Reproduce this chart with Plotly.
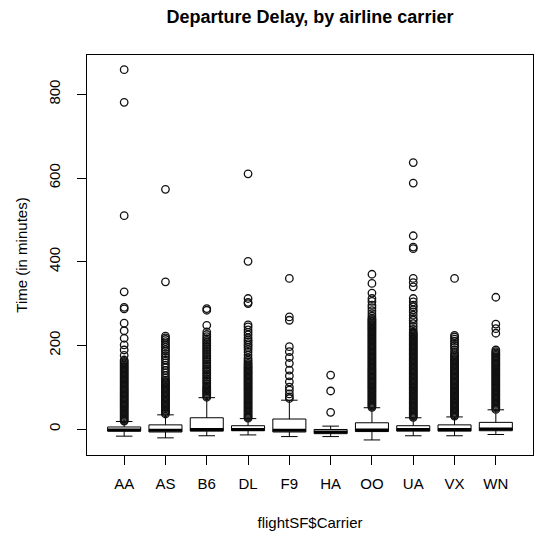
import plotly.graph_objects as go

carriers = ["AA", "AS", "B6", "DL", "F9", "HA", "OO", "UA", "VX", "WN"]
positions = [1, 2, 3, 4, 5, 6, 7, 8, 9, 10]

q1 = [-5, -7, -5, -4, -7, -11, -6, -5, -5, -4]
median = [-2, -3, -1, -1, -3, -7, -2, -1, -1, 0]
q3 = [5, 10, 27, 8, 24, -1, 15, 8, 10, 16]
lower_whisker = [-17, -21, -16, -14, -18, -18, -26, -16, -16, -13]
upper_whisker = [18, 34, 75, 25, 69, 7, 51, 27, 29, 46]

out_AA = [859, 781, 510, 328, 291, 287, 253, 235, 217, 201, 189, 176,
          165, 162, 159, 156, 153, 150, 147, 144, 141, 138, 135, 132, 129, 126, 123, 120,
          117, 114, 111, 108, 105, 102, 99, 96, 93, 90, 87, 84, 81, 78, 75, 72, 69, 66,
          63, 60, 57, 54, 51, 48, 45, 42, 39, 36, 33, 30, 27, 24, 21, 19]
out_AS = [573, 352, 222, 218, 214, 209, 204, 200, 195, 190, 186, 180, 175, 170, 165,
          158, 152, 146, 140, 134, 128, 122, 117, 114, 111, 108, 105, 102, 99, 96, 93,
          90, 87, 84, 81, 78, 75, 72, 69, 66, 63, 60, 57, 54, 51, 48, 45, 42, 39, 36]
out_B6 = [288, 284, 248, 232, 226, 221, 216, 212, 208, 204, 200, 196, 192, 188, 184,
          180, 176, 172, 168, 164, 160, 156, 152, 148, 144, 140, 136, 132, 128, 124, 120,
          116, 112, 108, 104, 100, 97, 94, 91, 88, 85, 82, 79, 76]
out_DL = [610, 401, 312, 303, 300, 249, 244, 237, 231, 225, 218, 213, 209, 204, 200,
          195, 190, 184, 177, 170, 165, 161, 157, 154, 151, 148, 145, 142, 139, 136, 133,
          130, 127, 124, 121, 118, 115, 112, 109, 106, 103, 100, 97, 94, 91, 88, 85, 82,
          79, 76, 73, 70, 67, 64, 61, 58, 55, 52, 49, 46, 43, 40, 37, 34, 31, 28, 26]
out_F9 = [360, 268, 260, 197, 185, 171, 157, 141, 127, 113, 100, 93, 84, 77, 73]
out_HA = [129, 91, 40]
out_OO = [370, 348, 325, 312, 305, 296, 290, 283, 276, 270, 265, 262, 259, 256, 253,
          250, 247, 244, 241, 238, 235, 232, 229, 226, 223, 220, 217, 214, 211, 208, 205,
          202, 199, 196, 193, 190, 187, 184, 181, 178, 175, 172, 169, 166, 163, 160, 157,
          154, 151, 148, 145, 142, 139, 136, 133, 130, 127, 124, 121, 118, 115, 112, 109,
          106, 103, 100, 97, 94, 91, 88, 85, 82, 79, 76, 73, 70, 67, 64, 61, 58, 55, 52]
out_UA = [637, 588, 462, 435, 431, 360, 350, 340, 312, 304, 296, 292, 285, 280, 272,
          264, 260, 252, 245, 238, 232, 229, 226, 223, 220, 217, 214, 211, 208, 205, 202,
          199, 196, 193, 190, 187, 184, 181, 178, 175, 172, 169, 166, 163, 160, 157, 154,
          151, 148, 145, 142, 139, 136, 133, 130, 127, 124, 121, 118, 115, 112, 109, 106,
          103, 100, 97, 94, 91, 88, 85, 82, 79, 76, 73, 70, 67, 64, 61, 58, 55, 52, 49,
          46, 43, 40, 37, 34, 31, 28]
out_VX = [360, 224, 220, 215, 210, 205, 200, 195, 189, 183, 178, 175, 172, 169, 166,
          163, 160, 157, 154, 151, 148, 145, 142, 139, 136, 133, 130, 127, 124, 121, 118,
          115, 112, 109, 106, 103, 100, 97, 94, 91, 88, 85, 82, 79, 76, 73, 70, 67, 64,
          61, 58, 55, 52, 49, 46, 43, 40, 37, 34, 31]
out_WN = [315, 251, 240, 229, 189, 185, 182, 179, 176, 173, 170, 167, 164, 161, 158,
          155, 152, 149, 146, 143, 140, 137, 134, 131, 128, 125, 122, 119, 116, 113, 110,
          107, 104, 101, 98, 95, 92, 89, 86, 83, 80, 77, 74, 71, 68, 65, 62, 59, 56, 53,
          50, 47]

outliers = [out_AA, out_AS, out_B6, out_DL, out_F9, out_HA, out_OO, out_UA, out_VX, out_WN]

y_ticks = [0, 200, 400, 600, 800]

FONT = "Liberation Sans, Arial, Helvetica, sans-serif"
BOX_W = 0.8

fig = go.Figure()

# outliers (drawn first so the boxes sit on top)
ox, oy = [], []
for p, vals in zip(positions, outliers):
    ox.extend([p] * len(vals))
    oy.extend(vals)
fig.add_trace(go.Scatter(
    x=ox, y=oy, mode="markers",
    marker=dict(symbol="circle-open", size=7.5, color="#111111", line=dict(width=1.3)),
    showlegend=False, hoverinfo="y"))

fig.add_trace(go.Box(
    x=positions, q1=q1, median=median, q3=q3,
    lowerfence=lower_whisker, upperfence=upper_whisker,
    width=BOX_W, whiskerwidth=0.5, boxpoints=False,
    fillcolor="white", line=dict(color="black", width=1),
    showlegend=False))

# thick median bars
mx, my = [], []
for p, m in zip(positions, median):
    mx += [p - BOX_W / 2, p + BOX_W / 2, None]
    my += [m, m, None]
fig.add_trace(go.Scatter(x=mx, y=my, mode="lines",
                         line=dict(color="black", width=3),
                         showlegend=False, hoverinfo="skip"))

fig.update_layout(
    width=535, height=535,
    margin=dict(l=87, r=2, t=55, b=80),
    plot_bgcolor="white", paper_bgcolor="white",
    font=dict(family=FONT, size=15, color="black"),
    title=dict(text="<b>Departure Delay, by airline carrier</b>",
               x=(87 + 533) / 2 / 535, xanchor="center",
               y=1 - 17 / 535, yanchor="middle",
               font=dict(size=18, family=FONT, color="black")),
)
fig.update_xaxes(
    range=[0.1, 10.9], tickvals=positions, ticktext=carriers,
    ticks="outside", ticklen=9, tickcolor="black",
    showline=True, linecolor="black", linewidth=1, mirror=True,
    showgrid=False, zeroline=False, ticklabelstandoff=6,
    title=dict(text="flightSF$Carrier", standoff=26, font=dict(size=15)))
fig.update_yaxes(
    range=[-62, 894], tickvals=y_ticks,
    ticks="outside", ticklen=9, tickcolor="black", tickangle=-90,
    showline=True, linecolor="black", linewidth=1, mirror=True,
    showgrid=False, zeroline=False, ticklabelstandoff=11,
    title=dict(text="Time (in minutes)", standoff=14, font=dict(size=15)))

fig.write_html("out.html")
